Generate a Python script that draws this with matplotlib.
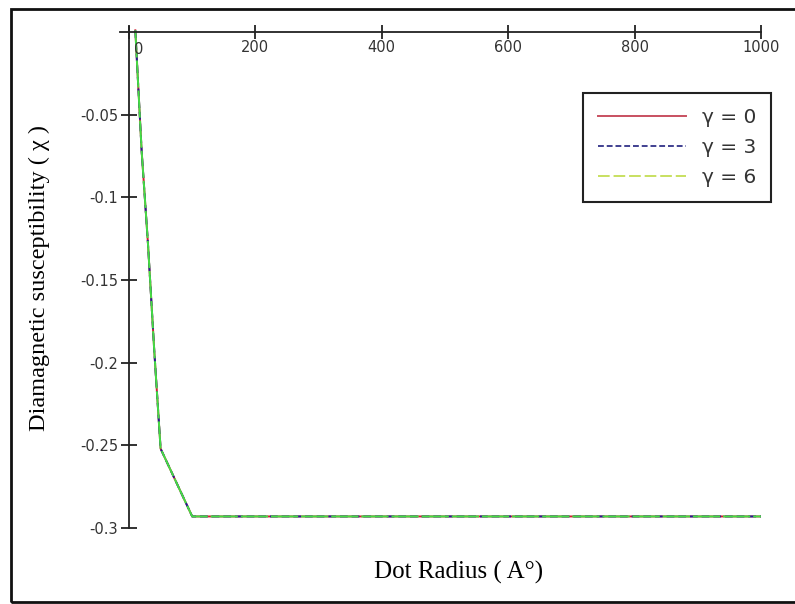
import matplotlib
matplotlib.use("Agg")
import matplotlib.pyplot as plt
from matplotlib.lines import Line2D
from matplotlib.patches import Rectangle

# dot radius (A) and diamagnetic susceptibility for the three gamma values
radius = [10, 20, 30, 40, 50, 100, 200, 300, 400, 500, 600, 700, 800, 900, 1000]
chi_g0 = [0.001, -0.072, -0.128, -0.193, -0.252, -0.293, -0.293, -0.293,
          -0.293, -0.293, -0.293, -0.293, -0.293, -0.293, -0.293]
chi_g3 = [0.001, -0.072, -0.128, -0.193, -0.252, -0.293, -0.293, -0.293,
          -0.293, -0.293, -0.293, -0.293, -0.293, -0.293, -0.293]
chi_g6 = [0.001, -0.072, -0.128, -0.193, -0.252, -0.293, -0.293, -0.293,
          -0.293, -0.293, -0.293, -0.293, -0.293, -0.293, -0.293]

x_ticks = [0, 200, 400, 600, 800, 1000]
y_ticks = [-0.05, -0.1, -0.15, -0.2, -0.25, -0.3]
y_tick_labels = ["-0.05", "-0.1", "-0.15", "-0.2", "-0.25", "-0.3"]
legend_labels = ["γ = 0", "γ = 3", "γ = 6"]

fig = plt.figure(figsize=(7.95, 6.04), dpi=100)
ax = fig.add_axes([0.1509, 0.1258, 0.8063, 0.8295])

ax.plot(radius, chi_g0, color="#d02030", linewidth=1.4, linestyle="-")
ax.plot(radius, chi_g3, color="#202090", linewidth=1.4, linestyle=(0, (4, 2)))
ax.plot(radius, chi_g6, color="#44dd44", linewidth=1.4, linestyle=(0, (14, 1.5)))

ax.set_xlim(-14.3, 1000)
ax.set_ylim(-0.3, 0.003)

for side in ["top", "right"]:
  ax.spines[side].set_visible(False)
ax.spines["left"].set_position(("data", 0))
ax.spines["bottom"].set_position(("data", 0))
for side in ["left", "bottom"]:
  ax.spines[side].set_linewidth(1.3)
  ax.spines[side].set_color("#222222")

ax.set_xticks(x_ticks)
ax.set_xticklabels([""] + [str(t) for t in x_ticks[1:]])
ax.set_yticks(y_ticks)
ax.set_yticklabels(y_tick_labels)
ax.tick_params(axis="x", direction="inout", length=10, width=1.3, pad=1,
               labelsize=10.5, labelcolor="#333333", color="#222222")
ax.tick_params(axis="y", direction="inout", length=12, width=1.3, pad=2,
               labelsize=10.5, labelcolor="#333333", color="#222222")
# Mathcad puts the zero label just right of the vertical axis
ax.annotate("0", xy=(0, 0), xytext=(7, -7), textcoords="offset points",
            ha="center", va="top", fontsize=10.5, color="#333333")

fig.text(0.577, 0.053, "Dot Radius ( A°)", ha="center", va="center",
         fontsize=18, family="Liberation Serif")
fig.text(0.05, 0.54, "Diamagnetic susceptibility ( χ )", ha="center", va="center",
         rotation=90, fontsize=17.5, family="Liberation Serif")

handles = [
  Line2D([], [], color="#c85060", linewidth=1.4, linestyle="-"),
  Line2D([], [], color="#404090", linewidth=1.4, linestyle=(0, (3, 1.5))),
  Line2D([], [], color="#c8e060", linewidth=1.4, linestyle=(0, (6, 2))),
]
leg = fig.legend(handles, legend_labels, loc="upper right",
                 bbox_to_anchor=(771 / 795, 1 - 93 / 604), fontsize=14.5,
                 handlelength=4.4, handletextpad=0.75, labelspacing=0.55,
                 borderpad=0.75, borderaxespad=0, fancybox=False,
                 framealpha=1, edgecolor="#222222")
leg.get_frame().set_linewidth(1.5)
for text in leg.get_texts():
  text.set_color("#333333")

fig.patches.append(Rectangle((11 / 795, 1 - 602 / 604), 0.999, 593 / 604,
                             transform=fig.transFigure, fill=False,
                             edgecolor="#111111", linewidth=2))

fig.savefig("out.png", dpi=100)
